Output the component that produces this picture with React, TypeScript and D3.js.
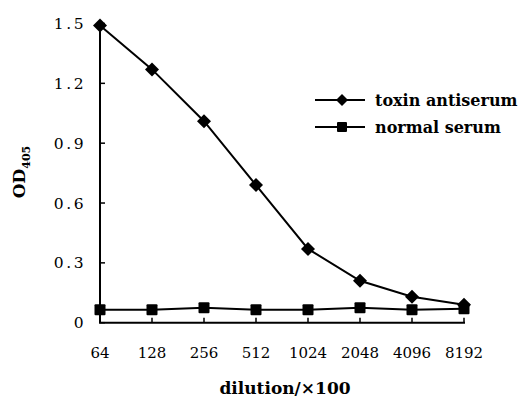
import React from "react";
import * as d3 from "d3";

const dilutions = ["64", "128", "256", "512", "1024", "2048", "4096", "8192"];
const toxinAntiserum = [1.49, 1.27, 1.01, 0.69, 0.37, 0.21, 0.13, 0.09];
const normalSerum = [0.065, 0.065, 0.075, 0.065, 0.065, 0.075, 0.065, 0.07];
const yTicks = [0, 0.3, 0.6, 0.9, 1.2, 1.5];
const yTickLabels = ["0", "0.3", "0.6", "0.9", "1.2", "1.5"];
const seriesNames = ["toxin antiserum", "normal serum"];

const W = 522;
const H = 399;
const left = 100;
const right = 464;
const top = 23.5;
const bottom = 322.7;
const font = "'DejaVu Serif', 'Liberation Serif', serif";

export default function App() {
  const x = d3.scalePoint<string>().domain(dilutions).range([left, right]);
  const y = d3.scaleLinear().domain([0, 1.5]).range([bottom, top]);
  const line = d3
    .line<number>()
    .x((_, i) => x(dilutions[i]) as number)
    .y((d) => y(d));

  const diamond = (cx: number, cy: number, r: number, key: any) => (
    <path key={key} d={`M${cx},${cy - r}L${cx + r},${cy}L${cx},${cy + r}L${cx - r},${cy}Z`} fill="#000" />
  );
  const square = (cx: number, cy: number, s: number, key: any) => (
    <rect key={key} x={cx - s / 2} y={cy - s / 2} width={s} height={s} fill="#000" rx={1} />
  );

  return (
    <svg width={W} height={H} style={{ display: "block", position: "absolute", left: 0, top: 0, fontFamily: font }}>
      <rect width={W} height={H} fill="#fff" />
      <line x1={left} x2={left} y1={top} y2={bottom} stroke="#000" strokeWidth={2} />
      <line x1={left - 1} x2={right + 1} y1={bottom} y2={bottom} stroke="#000" strokeWidth={2} />
      {yTicks.map((t, i) => (
        <g key={"yt" + i}>
          <line x1={left} x2={left + 5} y1={y(t)} y2={y(t)} stroke="#000" strokeWidth={1.5} />
          <text x={left - 14} y={y(t)} dy="0.36em" textAnchor="end" fontSize={15.5} letterSpacing={2.5}>
            {yTickLabels[i]}
          </text>
        </g>
      ))}
      {dilutions.map((d, i) => (
        <g key={"xt" + i}>
          <line x1={x(d)} x2={x(d)} y1={bottom} y2={bottom - 5} stroke="#000" strokeWidth={1.5} />
          <text x={x(d)} y={358} textAnchor="middle" fontSize={15}>
            {d}
          </text>
        </g>
      ))}
      <path d={line(normalSerum) || ""} fill="none" stroke="#000" strokeWidth={2} />
      <path d={line(toxinAntiserum) || ""} fill="none" stroke="#000" strokeWidth={2} />
      {normalSerum.map((v, i) => square(x(dilutions[i]) as number, y(v), 11, "ns" + i))}
      {toxinAntiserum.map((v, i) => diamond(x(dilutions[i]) as number, y(v), 7, "ta" + i))}
      <line x1={315} x2={365} y1={100} y2={100} stroke="#000" strokeWidth={2} />
      {diamond(342, 100, 6, "ld")}
      <text x={375} y={100} dy="0.36em" fontSize={16} fontWeight="bold">{seriesNames[0]}</text>
      <line x1={315} x2={365} y1={127} y2={127} stroke="#000" strokeWidth={2} />
      {square(342, 127, 10, "ls")}
      <text x={375} y={127} dy="0.36em" fontSize={16} fontWeight="bold">{seriesNames[1]}</text>
      <text transform="translate(25,172) rotate(-90)" textAnchor="middle" fontSize={17} fontWeight="bold">
        OD<tspan fontSize={11} dy={5}>405</tspan>
      </text>
      <text x={285} y={394} textAnchor="middle" fontSize={17} fontWeight="bold">
        dilution/×100
      </text>
    </svg>
  );
}
